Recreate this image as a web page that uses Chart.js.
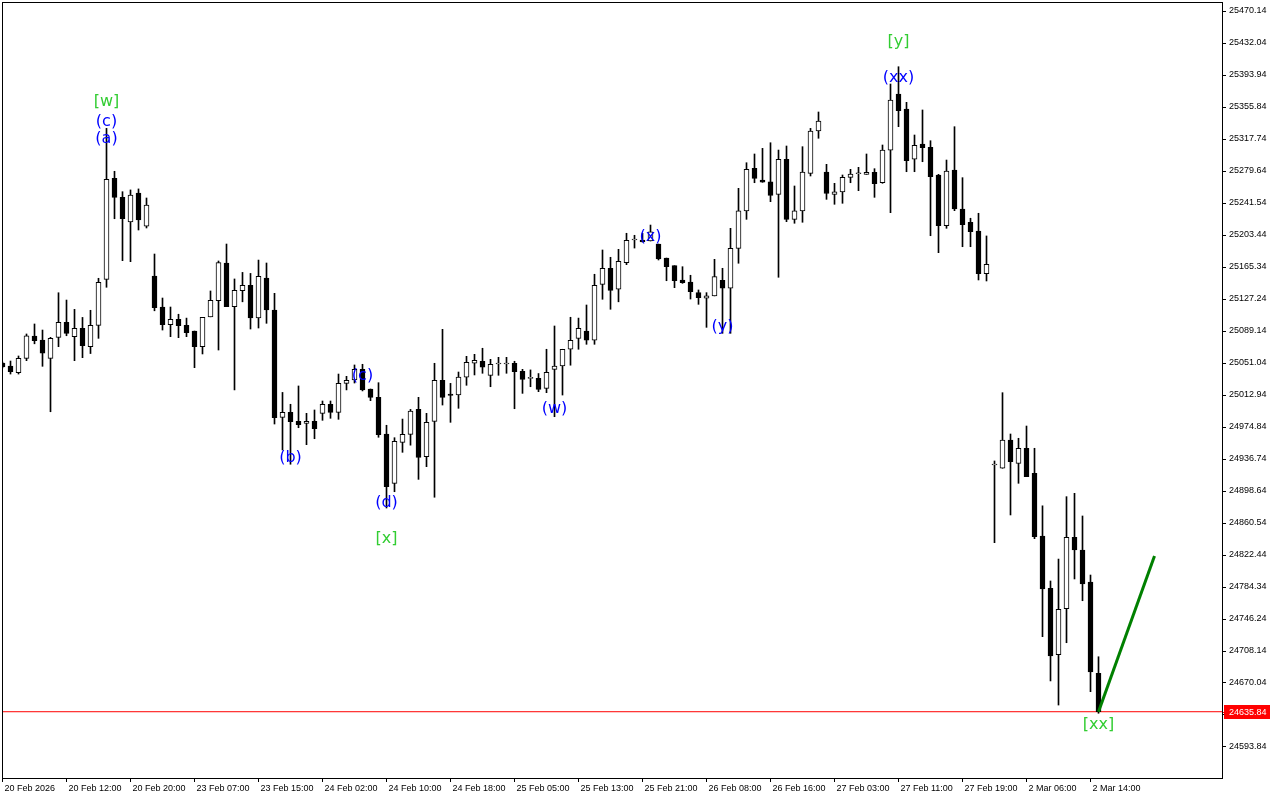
<!DOCTYPE html>
<html>
<head>
<meta charset="utf-8">
<title>Hourly candles</title>
<script src="https://cdn.jsdelivr.net/npm/chart.js@4.4.1/dist/chart.umd.min.js"></script>
<style>
  html, body { margin: 0; padding: 0; background: #fff; }
  canvas { display: block; }
</style>
</head>
<body>
<canvas id="chart" width="1280" height="800"></canvas>
<script>
// hourly bars (bar index = position on the time axis)
const opens = [
  25051.0, 25047.5, 25039.5, 25056.6, 25083.2, 25078.4, 25056.6, 25081.6, 25099.4, 25082.4,
  25092.4, 25070.5, 25095.9, 25150.7, 25270.9, 25248.3, 25218.9, 25253.5, 25214.1, 25154.6,
  25117.7, 25096.6, 25103.1, 25095.9, 25089.1, 25070.5, 25106.0, 25125.2, 25170.1, 25118.1,
  25137.2, 25143.6, 25104.8, 25152.2, 25114.1, 24986.3, 24992.3, 24981.6, 24979.2, 24981.6,
  24991.1, 25001.9, 24992.3, 25026.8, 25030.8, 25043.5, 25020.1, 25010.2, 24966.5, 24907.8,
  24956.6, 24966.1, 24995.8, 24939.5, 24981.6, 25030.4, 25014.0, 25012.9, 25034.3, 25050.7,
  25053.1, 25036.4, 25049.8, 25049.8, 25050.7, 25041.2, 25032.8, 25032.8, 25020.9, 25043.5,
  25047.5, 25067.4, 25080.4, 25089.1, 25078.1, 25144.7, 25163.8, 25138.8, 25170.5, 25197.5,
  25197.5, 25196.3, 25192.7, 25176.0, 25166.9, 25149.9, 25147.5, 25134.8, 25128.1, 25130.9,
  25149.5, 25140.0, 25187.6, 25232.1, 25282.8, 25268.9, 25266.6, 25251.9, 25293.6, 25222.1,
  25232.1, 25276.9, 25327.3, 25278.4, 25251.9, 25254.7, 25272.1, 25276.4, 25275.7, 25278.1,
  25265.7, 25304.3, 25371.3, 25353.5, 25293.6, 25311.8, 25307.9, 25274.9, 25214.5, 25280.8,
  25234.4, 25218.6, 25208.2, 25157.4, 24929.6, 24925.7, 24959.4, 24931.6, 24949.5, 24919.7,
  24845.1, 24782.8, 24703.7, 24758.5, 24843.5, 24828.4, 24790.3, 24681.6
];
const highs = [
  25052.2, 25053.4, 25059.4, 25085.6, 25097.5, 25090.3, 25081.6, 25134.7, 25126.0, 25114.9,
  25105.3, 25113.8, 25151.9, 25330.4, 25279.3, 25255.0, 25257.1, 25258.3, 25247.5, 25180.8,
  25128.4, 25117.7, 25109.1, 25104.5, 25089.1, 25105.3, 25136.8, 25172.5, 25192.7, 25151.1,
  25158.9, 25157.7, 25173.6, 25170.1, 25134.0, 25016.0, 25001.9, 25023.7, 24991.1, 24995.1,
  25005.8, 25005.8, 25037.9, 25035.2, 25048.7, 25049.5, 25020.1, 25027.6, 24976.9, 24962.1,
  24984.3, 24995.8, 25010.2, 24991.1, 25050.7, 25091.1, 25026.8, 25040.3, 25059.0, 25061.4,
  25068.6, 25055.4, 25057.8, 25057.8, 25053.1, 25043.5, 25042.8, 25038.5, 25067.4, 25095.1,
  25067.4, 25105.5, 25104.5, 25120.1, 25156.7, 25185.6, 25176.9, 25186.4, 25205.5, 25203.1,
  25205.5, 25215.3, 25192.7, 25176.0, 25166.9, 25165.7, 25155.5, 25138.0, 25134.8, 25174.5,
  25163.8, 25211.4, 25259.0, 25289.5, 25299.9, 25306.6, 25313.3, 25304.6, 25309.4, 25261.8,
  25308.6, 25330.4, 25349.9, 25287.6, 25265.0, 25274.9, 25281.6, 25284.0, 25299.9, 25282.4,
  25310.6, 25383.2, 25403.8, 25361.4, 25322.5, 25352.3, 25315.7, 25275.7, 25292.7, 25332.4,
  25271.7, 25223.4, 25229.3, 25202.3, 24934.4, 25015.7, 24966.5, 24961.4, 24976.0, 24949.5,
  24881.0, 24791.5, 24817.6, 24891.9, 24895.9, 24868.9, 24798.6, 24701.3
];
const lows = [
  25045.1, 25037.9, 25037.9, 25053.8, 25073.9, 25047.1, 24993.0, 25070.5, 25083.5, 25053.8,
  25057.4, 25062.3, 25080.4, 25141.2, 25222.8, 25172.9, 25171.7, 25209.4, 25211.8, 25113.2,
  25090.3, 25082.4, 25081.2, 25082.4, 25045.5, 25061.8, 25106.0, 25066.5, 25118.1, 25019.0,
  25123.9, 25091.5, 25092.7, 25098.3, 24978.4, 24947.5, 24930.5, 24974.0, 24953.8, 24960.9,
  24982.8, 24985.2, 24984.0, 25019.0, 25027.2, 25017.8, 25006.2, 24962.6, 24878.4, 24897.8,
  24944.7, 24953.2, 24912.5, 24927.6, 24891.2, 25001.0, 24980.4, 24997.1, 25024.5, 25036.8,
  25038.8, 25022.8, 25036.4, 25038.8, 24996.6, 25014.9, 25022.8, 25016.9, 25015.7, 24987.1,
  25012.9, 25048.4, 25067.4, 25073.3, 25073.3, 25126.9, 25115.0, 25123.9, 25168.1, 25187.9,
  25195.1, 25196.3, 25173.7, 25149.0, 25140.7, 25145.9, 25127.2, 25120.9, 25093.5, 25130.9,
  25086.4, 25086.4, 25169.8, 25222.1, 25265.7, 25266.2, 25243.1, 25153.1, 25219.3, 25217.4,
  25218.6, 25273.7, 25318.6, 25245.9, 25240.0, 25241.2, 25265.7, 25256.2, 25275.7, 25248.3,
  25265.0, 25230.0, 25332.4, 25278.8, 25278.8, 25290.7, 25202.6, 25182.4, 25211.4, 25232.4,
  25189.5, 25189.5, 25149.9, 25148.7, 24837.1, 24925.7, 24870.1, 24907.8, 24915.7, 24841.9,
  24725.2, 24672.5, 24643.8, 24718.0, 24793.9, 24768.0, 24659.7, 24634.0
];
const closes = [
  25046.3, 25040.7, 25056.6, 25083.5, 25077.6, 25062.6, 25080.4, 25099.4, 25086.4, 25092.4,
  25071.7, 25095.9, 25147.2, 25269.7, 25248.3, 25222.8, 25251.1, 25221.3, 25239.2, 25116.9,
  25096.6, 25103.1, 25095.5, 25087.1, 25070.5, 25105.3, 25125.7, 25170.5, 25118.1, 25137.6,
  25143.6, 25104.8, 25154.2, 25114.1, 24985.9, 24992.3, 24981.1, 24977.6, 24981.6, 24972.8,
  25001.9, 24992.3, 25026.8, 25030.4, 25043.5, 25019.0, 25010.2, 24965.7, 24903.8, 24957.8,
  24966.1, 24993.8, 24938.7, 24980.4, 25030.4, 25010.2, 25012.4, 25034.3, 25051.9, 25054.3,
  25046.0, 25049.5, 25049.8, 25049.8, 25040.7, 25031.6, 25032.8, 25019.7, 25040.0, 25047.5,
  25067.4, 25078.1, 25092.4, 25078.1, 25143.6, 25163.8, 25137.6, 25172.1, 25197.1, 25197.5,
  25195.1, 25207.3, 25174.9, 25165.7, 25149.0, 25146.7, 25136.0, 25128.8, 25130.9, 25153.8,
  25140.0, 25187.6, 25232.1, 25281.6, 25270.9, 25266.2, 25250.7, 25293.6, 25222.1, 25232.1,
  25278.4, 25327.3, 25339.2, 25252.9, 25254.7, 25272.1, 25276.1, 25276.4, 25278.1, 25264.5,
  25304.6, 25364.2, 25351.5, 25291.9, 25310.2, 25307.4, 25272.9, 25214.5, 25279.6, 25234.4,
  25215.7, 25207.4, 25157.4, 25168.6, 24929.6, 24959.4, 24933.6, 24949.5, 24915.7, 24844.3,
  24782.0, 24702.2, 24757.8, 24843.5, 24828.4, 24787.9, 24683.1, 24635.84
];

// time axis labels, one every 8 bars
const xTickBars = [0, 8, 16, 24, 32, 40, 48, 56, 64, 72, 80, 88, 96, 104, 112, 120, 128, 136];
const xTickLabels = [
  '20 Feb 2026', '20 Feb 12:00', '20 Feb 20:00', '23 Feb 07:00', '23 Feb 15:00', '24 Feb 02:00',
  '24 Feb 10:00', '24 Feb 18:00', '25 Feb 05:00', '25 Feb 13:00', '25 Feb 21:00', '26 Feb 08:00',
  '26 Feb 16:00', '27 Feb 03:00', '27 Feb 11:00', '27 Feb 19:00', '2 Mar 06:00', '2 Mar 14:00'
];

// price axis labels
const yTickValues = [
  25470.14, 25432.04, 25393.94, 25355.84, 25317.74, 25279.64, 25241.54, 25203.44,
  25165.34, 25127.24, 25089.14, 25051.04, 25012.94, 24974.84, 24936.74, 24898.64,
  24860.54, 24822.44, 24784.34, 24746.24, 24708.14, 24670.04, 24631.94, 24593.84
];

const lastPrice = 24635.84;

// projected move drawn as a green segment
const projBars = [137, 144];
const projPrices = [24635.84, 24821.2];

// wave marks
const waveTexts  = ['[w]', '(c)', '(a)', '(b)', '(c)', '(d)', '[x]', '(w)', '(x)', '(y)', '(xx)', '[y]', '[xx]'];
const waveBars   = [13, 13, 13, 36, 45, 48, 48, 69, 81, 90, 112, 112, 137];
const wavePrices = [25364.2, 25340.4, 25320.1, 24940.3, 25037.9, 24886.7, 24843.9, 24998.7, 25203.4, 25096.3, 25392.8, 25435.6, 24622.4];
const waveDegree = ['major', 'minor', 'minor', 'minor', 'minor', 'minor', 'major', 'minor', 'minor', 'minor', 'minor', 'major', 'major'];

const X_MIN = -0.0625;
const X_MAX = 152.4375;
const Y_MIN = 24556.93;
const Y_MAX = 25480.86;

const waveColors = { major: '#32cd32', minor: '#0000ff' };

const bodies = opens.map((o, i) => ({ x: i, y: [o, closes[i]] }));
const wicks = lows.map((l, i) => ({ x: i, y: [l, highs[i]] }));
const bodyColors = opens.map((o, i) => closes[i] >= o ? '#ffffff' : '#000000');

const chartFrame = {
  id: 'chartFrame',
  afterDraw(chart) {
    const { ctx, chartArea: a } = chart;
    ctx.save();
    ctx.strokeStyle = '#000';
    ctx.lineWidth = 1;
    ctx.strokeRect(a.left + 0.5, a.top + 0.5, a.right - a.left, a.bottom - a.top);
    ctx.restore();
  }
};

const waveMarks = {
  id: 'waveMarks',
  afterDatasetsDraw(chart) {
    const { ctx } = chart;
    const xs = chart.scales.x, ys = chart.scales.y;
    ctx.save();
    ctx.font = '16px "DejaVu Sans", sans-serif';
    ctx.textAlign = 'center';
    ctx.textBaseline = 'middle';
    waveTexts.forEach((t, i) => {
      ctx.fillStyle = waveColors[waveDegree[i]];
      // glyphs sit a little high with 'middle', nudge down
      ctx.fillText(t, xs.getPixelForValue(waveBars[i]), ys.getPixelForValue(wavePrices[i]) + 2);
    });
    ctx.restore();
  }
};

// red box with the current price on the price axis
const priceTag = {
  id: 'priceTag',
  afterDraw(chart) {
    const { ctx, chartArea: a } = chart;
    const y = Math.round(chart.scales.y.getPixelForValue(lastPrice));
    ctx.save();
    ctx.fillStyle = '#ff0000';
    ctx.fillRect(a.right + 1, y, 6, 1);
    ctx.fillRect(a.right + 2, y - 7, 46, 14);
    ctx.fillStyle = '#ffffff';
    ctx.font = '9px "Liberation Sans", Arial, sans-serif';
    ctx.textAlign = 'left';
    ctx.textBaseline = 'middle';
    ctx.fillText(lastPrice.toFixed(2), a.right + 7, y + 0.5);
    ctx.restore();
  }
};

// keep the plot box fixed: no extra room for overhanging tick labels
function noLabelPadding(scale) {
  scale.paddingTop = 0;
  scale.paddingBottom = 0;
  scale.paddingLeft = 0;
  scale.paddingRight = 0;
}

new Chart(document.getElementById('chart'), {
  type: 'bar',
  data: {
    datasets: [
      {
        label: 'bodies',
        data: bodies,
        backgroundColor: bodyColors,
        borderColor: '#000',
        borderWidth: 1,
        borderSkipped: false,
        barThickness: 5,
        minBarLength: 1,
        grouped: false,
        clip: 0,
        order: 0
      },
      {
        label: 'wicks',
        data: wicks,
        backgroundColor: '#000',
        borderWidth: 0,
        barThickness: 1,
        grouped: false,
        clip: 0,
        order: 1
      },
      {
        type: 'line',
        label: 'last',
        data: [{ x: X_MIN, y: lastPrice }, { x: X_MAX, y: lastPrice }],
        borderColor: '#ff0000',
        borderWidth: 1,
        pointRadius: 0,
        clip: 0,
        order: 2
      },
      {
        type: 'line',
        label: 'projection',
        data: projBars.map((b, i) => ({ x: b, y: projPrices[i] })),
        borderColor: '#008000',
        borderWidth: 3,
        pointRadius: 0,
        clip: 0,
        order: -1
      }
    ]
  },
  options: {
    responsive: false,
    animation: false,
    layout: { padding: { left: 2, top: 2, right: 0, bottom: 0 } },
    plugins: {
      legend: { display: false },
      tooltip: { enabled: false }
    },
    scales: {
      x: {
        type: 'linear',
        min: X_MIN,
        max: X_MAX,
        offset: false,
        afterFit(scale) { scale.height = 22; noLabelPadding(scale); },
        afterBuildTicks(scale) { scale.ticks = xTickBars.map(v => ({ value: v })); },
        grid: { offset: false, drawOnChartArea: false, drawTicks: true, tickLength: 4, color: '#000' },
        border: { display: false },
        ticks: {
          autoSkip: false,
          maxRotation: 0,
          minRotation: 0,
          align: 'start',
          labelOffset: 2,
          padding: 1,
          color: '#000',
          font: { family: '"Liberation Sans", Arial, sans-serif', size: 9 },
          callback: (v, i) => xTickLabels[i]
        }
      },
      y: {
        type: 'linear',
        position: 'right',
        min: Y_MIN,
        max: Y_MAX,
        beginAtZero: false,
        afterFit(scale) { scale.width = 58; noLabelPadding(scale); },
        afterBuildTicks(scale) { scale.ticks = yTickValues.map(v => ({ value: v })); },
        grid: { drawOnChartArea: false, drawTicks: true, tickLength: 4, color: '#000' },
        border: { display: false },
        ticks: {
          padding: 3,
          color: '#000',
          font: { family: '"Liberation Sans", Arial, sans-serif', size: 9 },
          callback: v => v.toFixed(2)
        }
      }
    }
  },
  plugins: [chartFrame, waveMarks, priceTag]
});
</script>
</body>
</html>
